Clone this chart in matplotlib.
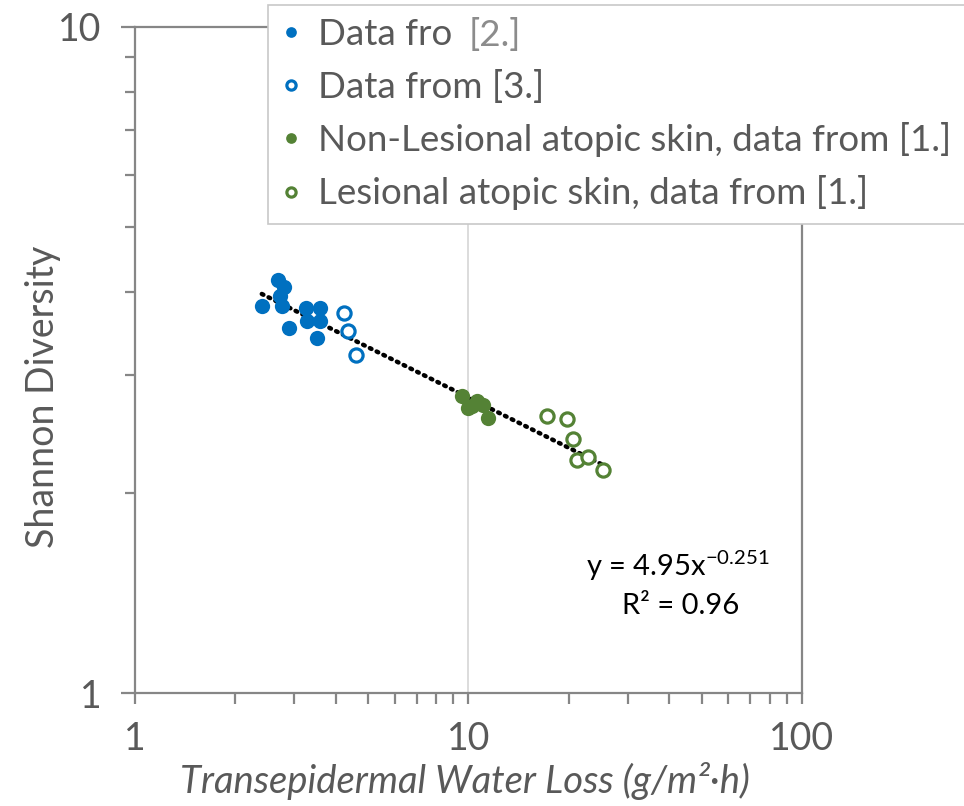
import numpy as np
import matplotlib
matplotlib.use("Agg")
import matplotlib.pyplot as plt
from matplotlib.ticker import LogLocator, NullFormatter, FixedFormatter, FixedLocator

plt.rcParams['font.family'] = ['Lato', 'DejaVu Sans']
plt.rcParams['mathtext.fontset'] = 'custom'
plt.rcParams['mathtext.rm'] = 'Lato'
plt.rcParams['mathtext.it'] = 'Lato:italic'

### Values
blue_filled_x = [2.40, 2.68, 2.79, 2.72, 2.75, 3.26, 3.59, 3.29, 3.59, 2.90, 3.51]
blue_filled_y = [3.81, 4.17, 4.07, 3.94, 3.81, 3.78, 3.78, 3.62, 3.62, 3.53, 3.41]
blue_open_x = [4.24, 4.36, 4.60]
blue_open_y = [3.72, 3.50, 3.22]
green_filled_x = [9.54, 9.99, 10.24, 10.58, 11.08, 11.47]
green_filled_y = [2.79, 2.68, 2.70, 2.74, 2.71, 2.59]
green_open_x = [17.16, 19.70, 20.62, 21.10, 22.78, 25.26]
green_open_y = [2.61, 2.58, 2.41, 2.24, 2.26, 2.16]

labels = ["Data fro", "Data from [3.]", "Non-Lesional atopic skin, data from [1.]",
          "Lesional atopic skin, data from [1.]"]

# power-law trendline from the chart's equation
fit_a = 4.95
fit_b = -0.251
fit_r2 = 0.96

blue = "#0070C0"
green = "#548235"
axis_grey = "#868686"
text_grey = "#595959"

W, H = 964, 806
fig = plt.figure(figsize=(W/100, H/100), dpi=100)
ax = fig.add_axes([135/W, 1-693/H, (802-135)/W, (693-27)/H])

ax.set_xscale('log')
ax.set_yscale('log')
ax.set_xlim(1, 100)
ax.set_ylim(1, 10)

# trendline
all_x = blue_filled_x + blue_open_x + green_filled_x + green_open_x
xt = np.logspace(np.log10(min(all_x)), np.log10(max(all_x)), 200)
ax.plot(xt, fit_a*xt**fit_b, color="black", linestyle=(0, (0.4, 1.3)), lw=3.2,
        dash_capstyle='round', zorder=3)

ms = 11
ax.plot(blue_filled_x, blue_filled_y, 'o', color=blue, ms=ms, mew=0, label=labels[0], zorder=4)
ax.plot(blue_open_x, blue_open_y, 'o', mfc='white', mec=blue, ms=ms-1.5, mew=2.3, label=labels[1], zorder=4)
ax.plot(green_filled_x, green_filled_y, 'o', color=green, ms=ms, mew=0, label=labels[2], zorder=4)
ax.plot(green_open_x, green_open_y, 'o', mfc='white', mec=green, ms=ms-1.5, mew=2.3, label=labels[3], zorder=4)

# axes styling
for s in ax.spines.values():
    s.set_color(axis_grey)
    s.set_linewidth(1.6)
ax.grid(axis='x', which='major', color="#d9d9d9", lw=1.3)
ax.set_axisbelow(True)

ax.xaxis.set_major_locator(FixedLocator([1, 10, 100]))
ax.xaxis.set_major_formatter(FixedFormatter(["1", "10", "100"]))
ax.xaxis.set_minor_locator(LogLocator(base=10, subs=np.arange(2, 10)))
ax.xaxis.set_minor_formatter(NullFormatter())
ax.yaxis.set_major_locator(FixedLocator([1, 10]))
ax.yaxis.set_major_formatter(FixedFormatter(["1", "10"]))
ax.yaxis.set_minor_locator(LogLocator(base=10, subs=np.arange(2, 10)))
ax.yaxis.set_minor_formatter(NullFormatter())

ax.tick_params(axis='both', which='both', color=axis_grey, width=1.6, direction='out')
ax.tick_params(axis='x', which='both', length=8, pad=12)
ax.tick_params(axis='y', which='major', length=10, pad=14)
ax.tick_params(axis='y', which='minor', length=7)
ax.tick_params(axis='both', which='major', labelsize=27, labelcolor=text_grey)

ax.set_xlabel("Transepidermal Water Loss (g/m²·h)", fontsize=27.5, style='italic',
              color=text_grey)
ax.xaxis.set_label_coords((465-135)/667, (693-762)/666)
ax.set_ylabel("Shannon Diversity", fontsize=27, color=text_grey)
ax.yaxis.set_label_coords((61-135)/667, (693-397)/666)

# equation
ax.text(678/W, 1-566/H, "y = 4.95x$^{-0.251}$", transform=fig.transFigure,
        fontsize=21, ha='center', va='center', color='black')
ax.text(681/W, 1-606/H, "R² = %.2f" % fit_r2, transform=fig.transFigure,
        fontsize=21, ha='center', va='center', color='black')

leg = ax.legend(loc='upper left', bbox_to_anchor=(268/W, 1-5/H), bbox_transform=fig.transFigure,
                borderaxespad=0, fontsize=26.5, frameon=True, fancybox=False, markerscale=0.7,
                handlelength=0.55, handletextpad=0.45, labelspacing=0.5, borderpad=0.36,
                framealpha=1, edgecolor="#c8c8c8")
leg.get_frame().set_linewidth(1.2)
for t in leg.get_texts():
    t.set_color(text_grey)

# lighter "[2.]" after the first entry
fig.canvas.draw()
bb = leg.get_texts()[0].get_window_extent()
fig.text(bb.x1/W + 16/W, (bb.y0 + bb.y1)/2/H, "[2.]", fontsize=26.5, color="#8c8c8c",
         ha='left', va='center')

fig.savefig("out.png", dpi=100)
